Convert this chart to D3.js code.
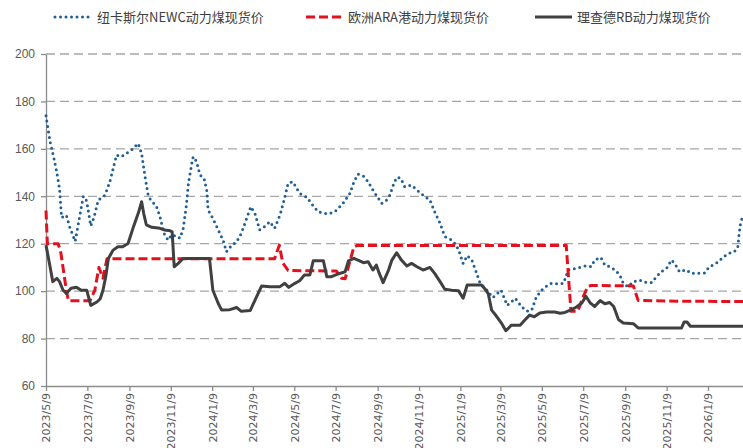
<!DOCTYPE html>
<html>
<head>
<meta charset="utf-8">
<script src="https://cdn.jsdelivr.net/npm/d3@7"></script>
<style>
  body { margin: 0; background: #fff; }
  svg { display: block; }
</style>
</head>
<body>
<div id="container"></div>
<script>
// series: [date, price]
const newc = [
  ["2023-05-09",174],["2023-05-15",163],["2023-05-20",157],["2023-05-25",150],["2023-05-29",143],
  ["2023-06-01",131],["2023-06-08",132],["2023-06-13",127],["2023-06-21",121],["2023-07-03",140],
  ["2023-07-08",138],["2023-07-14",127.5],["2023-07-19",131.4],["2023-07-25",138.4],["2023-08-04",140.5],
  ["2023-08-11",146],["2023-08-21",157.4],["2023-08-28",156.7],["2023-09-12",159.5],["2023-09-22",162.3],
  ["2023-09-27",158],["2023-10-02",148.3],["2023-10-07",139.8],["2023-10-19",135.6],["2023-10-24",131.4],
  ["2023-10-30",124.4],["2023-11-05",121.5],["2023-11-10",123.7],["2023-11-20",123],["2023-11-22",122.3],
  ["2023-11-27",125.8],["2023-12-02",136.3],["2023-12-05",145.5],["2023-12-10",153.9],["2023-12-12",156.7],
  ["2023-12-17",154.6],["2023-12-22",149],["2023-12-28",147.6],["2024-01-01",142.6],["2024-01-03",134.2],
  ["2024-01-10",130.7],["2024-01-18",125.8],["2024-01-25",121.6],["2024-01-30",116.6],["2024-02-07",119.4],
  ["2024-02-14",120.8],["2024-02-21",124.4],["2024-02-28",130],["2024-03-06",135.6],["2024-03-12",132.8],
  ["2024-03-19",125.8],["2024-03-26",127.2],["2024-04-03",129.3],["2024-04-10",126.5],["2024-04-18",132.1],
  ["2024-04-24",138.4],["2024-04-30",145.5],["2024-05-07",146.1],["2024-05-17",141.2],["2024-05-28",139.5],
  ["2024-06-03",137],["2024-06-13",133.5],["2024-06-28",132.5],["2024-07-08",133.5],["2024-07-20",137],
  ["2024-07-30",141.2],["2024-08-05",146.1],["2024-08-11",149.4],["2024-08-19",148.5],["2024-08-26",146.1],
  ["2024-09-02",142.6],["2024-09-15",137],["2024-09-22",138.4],["2024-09-27",140.5],["2024-10-02",144.7],
  ["2024-10-07",148],["2024-10-13",147.7],["2024-10-19",144],["2024-10-29",144.7],["2024-11-06",142.6],
  ["2024-11-15",140.5],["2024-11-25",138.4],["2024-12-02",133.5],["2024-12-10",128.6],["2024-12-17",123],
  ["2024-12-27",121.6],["2025-01-03",119.4],["2025-01-08",116],["2025-01-13",111.7],["2025-01-19",115],
  ["2025-01-26",113],["2025-02-02",107.5],["2025-02-07",103.3],["2025-02-14",101.5],["2025-02-26",97.3],
  ["2025-03-10",100.4],["2025-03-19",94],["2025-03-31",97],["2025-04-09",93.5],["2025-04-17",91.6],
  ["2025-04-24",92],["2025-05-01",97.6],["2025-05-11",101.2],["2025-05-23",103.3],["2025-06-02",103],
  ["2025-06-10",103.3],["2025-06-17",109],["2025-06-29",109.6],["2025-07-12",110.6],["2025-07-21",110.3],
  ["2025-07-26",113.1],["2025-08-04",114.2],["2025-08-10",111],["2025-08-17",110.3],["2025-08-25",108.9],
  ["2025-09-01",106.8],["2025-09-06",103.3],["2025-09-13",101.9],["2025-09-21",104],["2025-09-30",104.7],
  ["2025-10-11",103.6],["2025-10-18",103.6],["2025-10-25",106.1],["2025-11-01",108.2],["2025-11-09",109.6],
  ["2025-11-16",113.1],["2025-11-21",111.7],["2025-11-28",108.2],["2025-12-08",109],["2025-12-15",107.5],
  ["2025-12-25",107.5],["2026-01-04",107.7],["2026-01-11",110.3],["2026-01-21",111.7],["2026-02-01",114.5],
  ["2026-02-09",116],["2026-02-17",116.6],["2026-02-22",118.7],["2026-02-24",124.4],["2026-02-26",128.6],
  ["2026-03-01",131.4]
];

const ara = [
  ["2023-05-09",134],["2023-05-11",120],["2023-05-27",120],["2023-05-31",116],["2023-06-08",100.4],
  ["2023-06-11",96],["2023-07-13",96],["2023-07-20",100.4],["2023-07-26",110],["2023-08-01",105.5],
  ["2023-08-07",113.7],["2024-04-10",113.7],["2024-04-17",119.4],["2024-04-22",112],["2024-04-30",108.7],
  ["2024-07-10",108.5],["2024-07-18",105.4],["2024-07-23",105.2],["2024-08-05",118.7],["2024-08-09",119.2],
  ["2025-06-14",119.3],["2025-06-21",91.5],["2025-07-01",91.5],["2025-07-09",97.6],["2025-07-16",102],
  ["2025-07-21",102.4],["2025-09-21",102.2],["2025-09-28",96.1],["2025-11-09",95.8],["2026-03-09",95.6]
];

const rb = [
  ["2023-05-09",119.4],["2023-05-15",110.3],["2023-05-19",104],["2023-05-25",105.4],["2023-05-29",104],
  ["2023-06-03",100.5],["2023-06-08",99],["2023-06-15",101.2],["2023-06-23",101.6],["2023-06-30",100.4],
  ["2023-07-08",100.4],["2023-07-14",94],["2023-07-23",95.4],["2023-07-28",96.8],["2023-08-01",100.4],
  ["2023-08-05",106],["2023-08-09",113.8],["2023-08-16",117.3],["2023-08-23",118.7],["2023-08-30",118.7],
  ["2023-09-07",120.1],["2023-09-15",127.2],["2023-09-22",132.8],["2023-09-27",137.7],["2023-09-30",132.8],
  ["2023-10-04",127.9],["2023-10-12",126.9],["2023-10-24",126.5],["2023-10-31",125.8],["2023-11-08",125.5],
  ["2023-11-11",125],["2023-11-14",110.3],["2023-11-20",111.7],["2023-11-27",113.8],["2024-01-05",113.8],
  ["2024-01-10",100.4],["2024-01-18",94.8],["2024-01-23",92],["2024-02-04",92.2],["2024-02-14",93.1],
  ["2024-02-21",91.5],["2024-03-05",91.8],["2024-03-12",96.1],["2024-03-22",102.2],["2024-04-03",101.9],
  ["2024-04-18",101.9],["2024-04-25",103.3],["2024-05-01",101.6],["2024-05-10",103.3],["2024-05-17",104.4],
  ["2024-05-24",106.8],["2024-06-01",106.8],["2024-06-06",112.8],["2024-06-21",112.8],["2024-06-26",106.1],
  ["2024-07-03",106.1],["2024-07-11",107.1],["2024-07-23",108.2],["2024-07-28",112.8],["2024-08-05",113.8],
  ["2024-08-11",113.1],["2024-08-19",112],["2024-08-26",112.4],["2024-09-02",108.9],["2024-09-07",111],
  ["2024-09-11",107.8],["2024-09-17",103.6],["2024-09-25",108.9],["2024-09-30",113.1],["2024-10-07",116.2],
  ["2024-10-14",113.1],["2024-10-22",110.6],["2024-10-29",111.7],["2024-11-06",110.3],["2024-11-15",108.9],
  ["2024-11-25",110],["2024-12-02",107.5],["2024-12-10",104],["2024-12-17",100.8],["2024-12-27",100.4],
  ["2025-01-06",100.2],["2025-01-13",97],["2025-01-19",102.6],["2025-02-09",102.6],["2025-02-14",101],
  ["2025-02-19",99],["2025-02-24",92],["2025-03-03",89.5],["2025-03-11",86.3],["2025-03-17",83.3],
  ["2025-03-25",85.6],["2025-04-07",85.6],["2025-04-14",87.8],["2025-04-21",89.9],["2025-04-28",89.2],
  ["2025-05-06",90.8],["2025-05-16",91.2],["2025-05-28",91.2],["2025-06-05",90.7],["2025-06-12",91],
  ["2025-06-22",92.2],["2025-06-29",93.3],["2025-07-07",95],["2025-07-13",97.8],["2025-07-19",95.2],
  ["2025-07-26",93.5],["2025-08-03",96],["2025-08-10",94.7],["2025-08-17",95.2],["2025-08-23",93.5],
  ["2025-08-30",88],["2025-09-06",86.6],["2025-09-21",86.3],["2025-09-28",84.5],["2025-12-01",84.5],
  ["2025-12-05",87],["2025-12-09",87],["2025-12-14",85.2],["2026-03-09",85.2]
];

const seriesNames = ["纽卡斯尔NEWC动力煤现货价", "欧洲ARA港动力煤现货价", "理查德RB动力煤现货价"];
const yTicks = [60, 80, 100, 120, 140, 160, 180, 200];
const xTickStart = "2023-05-09";
const xTickCount = 18; // every 2 months up to 2026/3/9

const width = 743, height = 448;
const mLeft = 46, mRight = 748, mTop = 54, mBottom = 386;
const axisColor = "#8c8c8c";
const textColor = "#595959";

const parse = d3.timeParse("%Y-%m-%d");
const fmt = d3.timeFormat("%Y/%-m/%-d");

const xTicks = d3.range(xTickCount).map(i => d3.timeMonth.offset(parse(xTickStart), 2 * i));

const x = d3.scaleTime()
  .domain([parse("2023-05-09"), parse("2026-03-09")])
  .range([mLeft, mRight]);
const y = d3.scaleLinear().domain([60, 200]).range([mBottom, mTop]);

const svg = d3.select("#container").append("svg")
  .attr("width", width).attr("height", height)
  .style("font-family", "'Liberation Sans', Arial, sans-serif");

// grid lines
svg.append("g").selectAll("line")
  .data(yTicks.filter(d => d > 60))
  .enter().append("line")
  .attr("x1", mLeft).attr("x2", mRight)
  .attr("y1", d => y(d)).attr("y2", d => y(d))
  .attr("stroke", "#a6a6a6").attr("stroke-width", 1.3)
  .attr("stroke-dasharray", "9,5");

// y axis
const yAxis = svg.append("g")
  .attr("transform", `translate(${mLeft},0)`)
  .call(d3.axisLeft(y).tickValues(yTicks).tickSize(5).tickSizeOuter(0).tickPadding(6));
yAxis.select(".domain").attr("stroke", axisColor).attr("stroke-width", 1.3);
yAxis.selectAll(".tick line").attr("stroke", axisColor).attr("stroke-width", 1.3);
yAxis.selectAll("text").attr("fill", textColor).style("font-size", "12px");

// x axis
const xAxis = svg.append("g")
  .attr("transform", `translate(0,${mBottom})`)
  .call(d3.axisBottom(x).tickValues(xTicks).tickFormat(fmt).tickSize(5).tickSizeOuter(0));
xAxis.select(".domain").attr("stroke", axisColor).attr("stroke-width", 1.3);
xAxis.selectAll(".tick line").attr("stroke", axisColor).attr("stroke-width", 1.3);
xAxis.selectAll("text")
  .attr("transform", "rotate(-90)")
  .attr("text-anchor", "end")
  .attr("x", -7).attr("y", 0).attr("dy", "0.35em")
  .attr("fill", textColor)
  .style("font-family", "'DejaVu Sans', sans-serif")
  .style("font-size", "11px");

// lines
const line = d3.line()
  .x(d => x(parse(d[0])))
  .y(d => y(d[1]));

const styles = [
  { data: newc, color: "#1f5f96", dash: "0,5.5", cap: "round", w: 3 },
  { data: ara, color: "#e3101e", dash: "9,4", cap: "butt", w: 3 },
  { data: rb, color: "#404040", dash: null, cap: "butt", w: 3 }
];

styles.forEach(s => {
  svg.append("path")
    .datum(s.data)
    .attr("d", line)
    .attr("fill", "none")
    .attr("stroke", s.color)
    .attr("stroke-width", s.w)
    .attr("stroke-linecap", s.cap)
    .attr("stroke-linejoin", "round")
    .attr("stroke-dasharray", s.dash);
});

// legend
const legendX = [55, 306, 535];
const legend = svg.append("g");
styles.forEach((s, i) => {
  const g = legend.append("g").attr("transform", `translate(${legendX[i]},17)`);
  g.append("line")
    .attr("x1", 0).attr("x2", 37).attr("y1", 0).attr("y2", 0)
    .attr("stroke", s.color).attr("stroke-width", s.w)
    .attr("stroke-linecap", s.cap)
    .attr("stroke-dasharray", s.dash);
  g.append("text")
    .attr("x", 42).attr("y", 0).attr("dy", "0.35em")
    .attr("fill", "#404040")
    .style("font-family", "'Noto Sans CJK SC', sans-serif")
    .style("font-size", "13px")
    .text(seriesNames[i]);
});
</script>
</body>
</html>
